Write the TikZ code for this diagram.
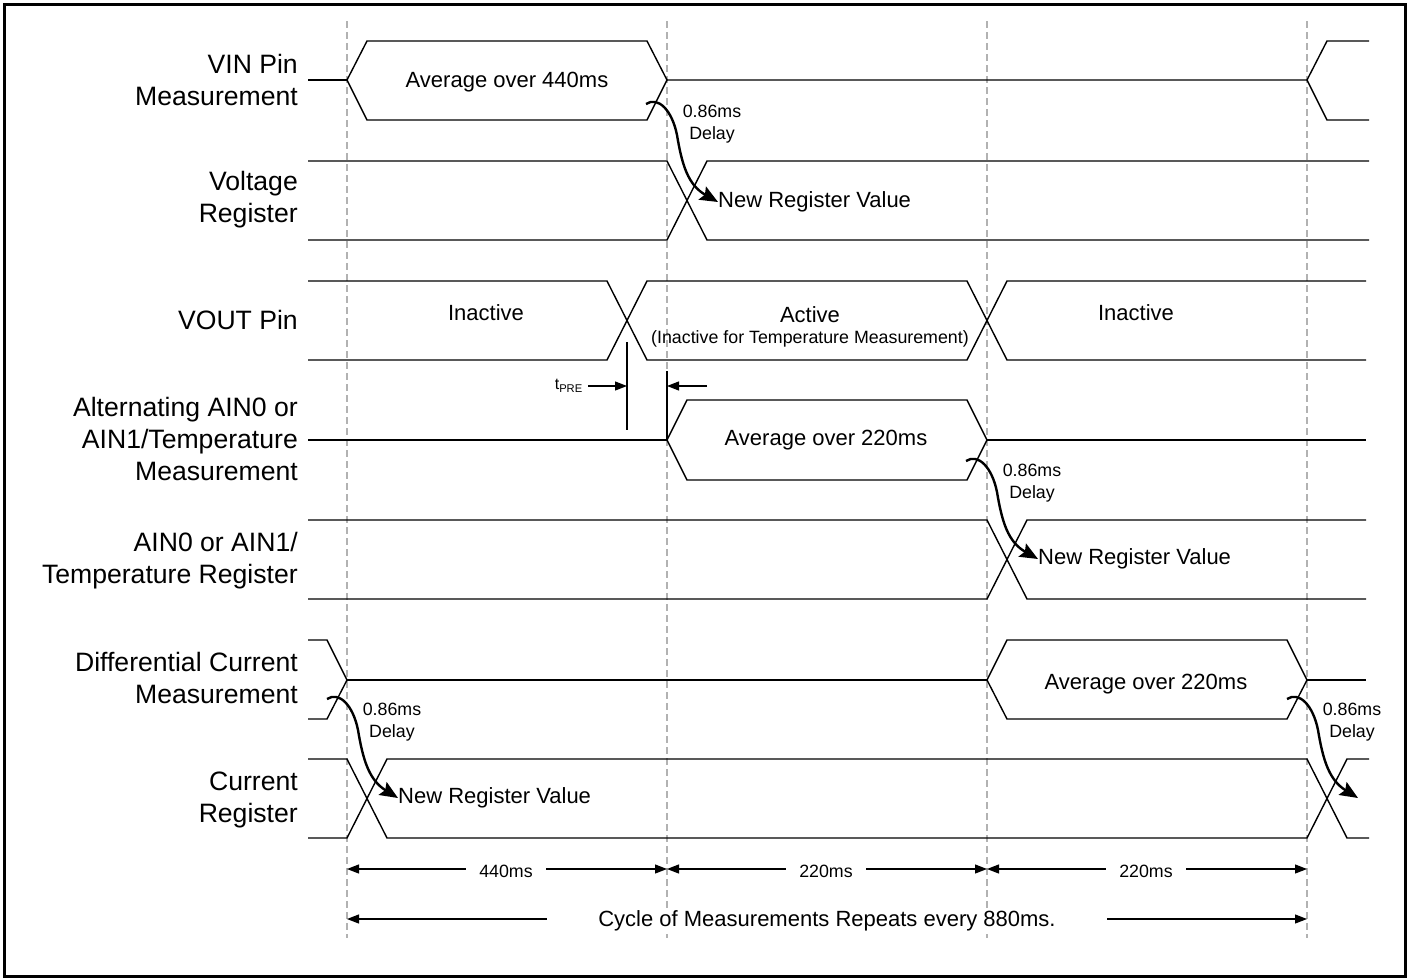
\documentclass[tikz,border=0pt]{standalone}
\usepackage{fontspec}
\setmainfont{Liberation Sans}
\usetikzlibrary{arrows.meta}
\tikzset{
  lbl/.style={font=\fontsize{26.6}{32}\selectfont, align=right, anchor=east, inner sep=0pt},
  txt/.style={font=\fontsize{22}{26}\selectfont, inner sep=0pt},
  sm/.style={font=\fontsize{17.8}{21.5}\selectfont, inner sep=0pt, align=center},
  wave/.style={line width=1.4pt, line join=miter},
  guide/.style={draw=black!30, line width=1.4pt, dash pattern=on 7pt off 4pt},
  dim/.style={line width=1.2pt, {Triangle[length=12pt,width=9pt]}-{Triangle[length=12pt,width=9pt]}},
  tarr/.style={line width=1.2pt, -{Triangle[length=12pt,width=9pt]}},
  delay/.style={line width=2.4pt, -{Stealth[length=18pt,width=15pt,inset=3pt]}},
  mask/.style={fill=white, inner ysep=3pt}
}
\begin{document}
\begin{tikzpicture}[x=1pt,y=-1pt]
\useasboundingbox (0,0) rectangle (1409,980);
\draw[line width=3pt] (4.5,4.5) rectangle (1405.5,976);

% guide lines
\foreach \gx/\gn in {347/a,667/b,987/c,1307/d}{
  \coordinate (top\gn) at (\gx,21);
  \coordinate (bot\gn) at (\gx,938);
  \draw[guide] (top\gn) -- (bot\gn);
}

% labels
\node[lbl] (l1) at (298,80) {VIN Pin\\Measurement};
\node[lbl] (l2) at (298,200) {Voltage\\Register};
\node[lbl] (l3) at (298,320) {VOUT Pin};
\node[lbl] (l4) at (298,439) {Alternating AIN0 or\\AIN1/Temperature\\Measurement};
\node[lbl] (l5) at (298,561) {AIN0 or AIN1/\\Temperature Register};
\node[lbl] (l6) at (298,678) {Differential Current\\Measurement};
\node[lbl] (l7) at (298,800) {Current\\Register};

% row 1: VIN measurement
\draw[wave] (308,80) -- (347,80);
\draw[wave] (347,80) -- (367,41) -- (647,41) -- (667,80) -- (647,120) -- (367,120) -- cycle;
\draw[wave] (667,80) -- (1307,80) -- (1327,41) -- (1369,41);
\draw[wave] (1307,80) -- (1327,120) -- (1369,120);
\node[txt] (avg1) at (507,82) {Average over 440ms};

% row 2: voltage register
\draw[wave] (308,161) -- (667,161) -- (707,240) -- (1369,240);
\draw[wave] (308,240) -- (667,240) -- (707,161) -- (1369,161);
\node[txt, anchor=west] (nrv1) at (718,202) {New Register Value};

% row 3: VOUT pin
\draw[wave] (308,281) -- (607,281) -- (647,360) -- (967,360) -- (1007,281) -- (1366,281);
\draw[wave] (308,360) -- (607,360) -- (647,281) -- (967,281) -- (1007,360) -- (1366,360);
\node[txt] (ina1) at (486,313) {Inactive};
\node[txt] (act) at (810,315) {Active};
\node[sm] (actsub) at (810,339) {(Inactive for Temperature Measurement)};
\node[txt] (ina2) at (1136,313) {Inactive};

% tPRE
\coordinate (p1t) at (627,342);
\coordinate (p1b) at (627,430);
\coordinate (p2t) at (667,371);
\coordinate (p2b) at (667,440);
\draw[wave] (p1t) -- (p1b);
\draw[wave] (p2t) -- (p2b);
\node[anchor=east, inner sep=0pt, font=\fontsize{16}{18}\selectfont] (tpre) at (583,386) {t\textsubscript{PRE}};
\coordinate (p1a) at (627,386);
\coordinate (p2a) at (667,386);
\coordinate (p2s) at (707,386);
\draw[tarr] (588,386) -- (p1a);
\draw[tarr] (p2s) -- (p2a);

% row 4: alternating measurement
\draw[wave] (308,440) -- (667,440);
\draw[wave] (667,440) -- (687,400) -- (967,400) -- (987,440) -- (967,480) -- (687,480) -- cycle;
\draw[wave] (987,440) -- (1366,440);
\node[txt] (avg2) at (826,440) {Average over 220ms};

% row 5: AIN register
\draw[wave] (308,520) -- (987,520) -- (1027,599) -- (1366,599);
\draw[wave] (308,599) -- (987,599) -- (1027,520) -- (1366,520);
\node[txt, anchor=west] (nrv2) at (1038,559) {New Register Value};

% row 6: differential current
\draw[wave] (308,640) -- (327,640) -- (347,680) -- (327,719) -- (308,719);
\draw[wave] (347,680) -- (987,680);
\draw[wave] (987,680) -- (1007,640) -- (1287,640) -- (1307,680) -- (1287,719) -- (1007,719) -- cycle;
\draw[wave] (1307,680) -- (1366,680);
\node[txt] (avg3) at (1146,684) {Average over 220ms};

% row 7: current register
\draw[wave] (308,759) -- (347,759) -- (387,838) -- (1307,838) -- (1347,759) -- (1369,759);
\draw[wave] (308,838) -- (347,838) -- (387,759) -- (1307,759) -- (1347,838) -- (1369,838);
\node[txt, anchor=west] (nrv3) at (398,798) {New Register Value};

% delay arrows
\coordinate (d1s) at (646,104);
\draw[delay] (d1s) .. controls (658,96) and (672,110) .. (677,135) .. controls (682,165) and (688,185) .. (nrv1.west);
\node[sm] (dl1) at (712,124) {0.86ms\\Delay};

\coordinate (d2s) at (966,461);
\draw[delay] (d2s) .. controls (978,453) and (992,467) .. (997,492) .. controls (1002,522) and (1008,542) .. (nrv2.west);
\node[sm] (dl2) at (1032,483) {0.86ms\\Delay};

\coordinate (d3s) at (327,699);
\draw[delay] (d3s) .. controls (339,691) and (353,705) .. (358,730) .. controls (363,760) and (369,780) .. (nrv3.west);
\node[sm] (dl3) at (392,722) {0.86ms\\Delay};

\coordinate (d4s) at (1287,699);
\coordinate (d4e) at (1358,798);
\draw[delay] (d4s) .. controls (1299,691) and (1313,705) .. (1318,730) .. controls (1323,760) and (1329,780) .. (d4e);
\node[sm] (dl4) at (1352,722) {0.86ms\\Delay};

% dimensions
\coordinate (ma) at (347,869);
\coordinate (mb) at (667,869);
\coordinate (mc) at (987,869);
\coordinate (md) at (1307,869);
\draw[dim] (ma) -- (mb);
\draw[dim] (mb) -- (mc);
\draw[dim] (mc) -- (md);
\node[sm, mask, inner xsep=13pt] (t440) at (506,871) {440ms};
\node[sm, mask, inner xsep=13pt] (t220a) at (826,871) {220ms};
\node[sm, mask, inner xsep=13pt] (t220b) at (1146,871) {220ms};

\coordinate (ca) at (347,919);
\coordinate (cd) at (1307,919);
\draw[dim] (ca) -- (cd);
\node[txt, mask, inner xsep=51pt] (cyc) at (827,921) {Cycle of Measurements Repeats every 880ms.};
\end{tikzpicture}
\end{document}
